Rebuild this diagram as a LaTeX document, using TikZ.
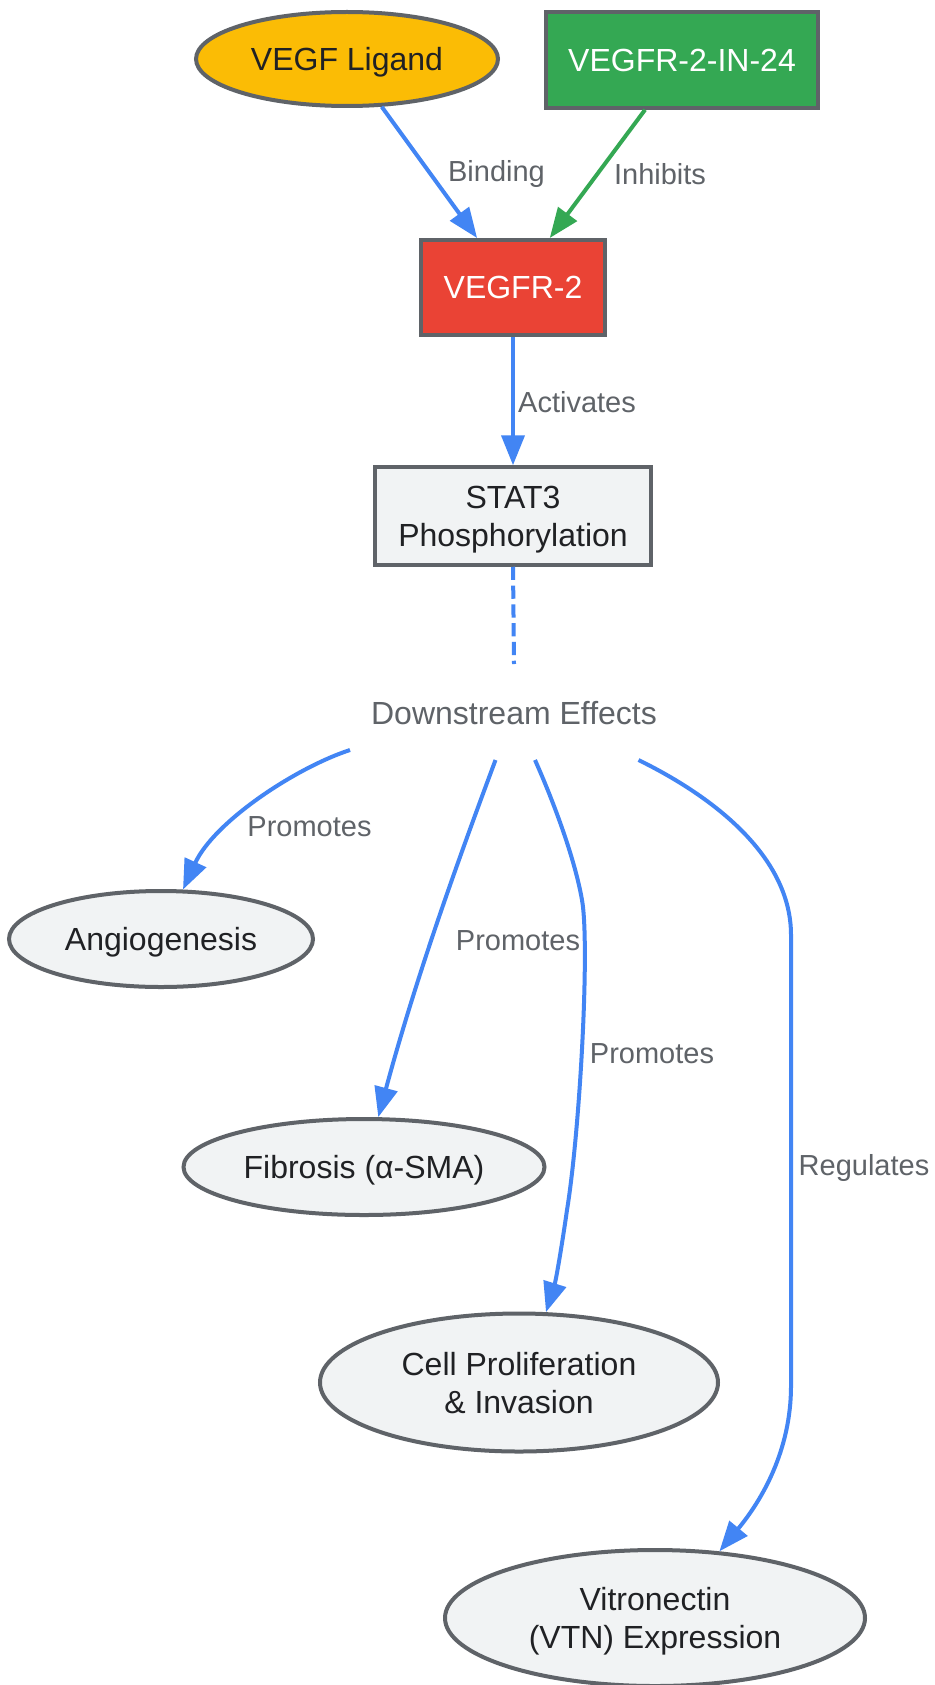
\documentclass[tikz,border=0pt]{standalone}
\usepackage{fontspec}
\setmainfont{Liberation Sans}
\usetikzlibrary{shapes.geometric,arrows.meta}
\definecolor{gblue}{HTML}{4285F4}
\definecolor{ggreen}{HTML}{34A853}
\definecolor{gred}{HTML}{EA4335}
\definecolor{gyellow}{HTML}{FBBC05}
\definecolor{gborder}{HTML}{5F6368}
\definecolor{glight}{HTML}{F1F3F4}
\definecolor{gtext}{HTML}{202124}
\definecolor{glabel}{HTML}{5F6368}
\begin{document}
\begin{tikzpicture}[x=0.5pt,y=-0.5pt,
  box/.style={draw=gborder, line width=2pt, inner sep=0pt, align=center, text depth=0pt,
              font=\fontsize{16}{19}\selectfont, text=gtext, fill=glight},
  oval/.style={box, ellipse},
  conn/.style={draw=gblue, line width=2pt, -{Triangle[length=15pt,width=11.5pt]}},
  lbl/.style={text=glabel, font=\fontsize{14.5}{17}\selectfont, inner sep=0pt}
]
\useasboundingbox[fill=white] (0,0) rectangle (934,1685);

% nodes
\node[oval, fill=gyellow, minimum width=151pt, minimum height=47pt] (vegf) at (347,59) {VEGF Ligand};
\node[box, fill=ggreen, text=white, minimum width=136pt, minimum height=47.75pt] (inh) at (682,60) {VEGFR-2-IN-24};
\node[box, fill=gred, text=white, minimum width=92pt, minimum height=47.5pt] (vr) at (513,287.5) {VEGFR-2};
\node[box, minimum width=138pt, minimum height=48.75pt] (stat) at (513,516) {STAT3\\Phosphorylation};
\node[text=glabel, font=\fontsize{16}{19}\selectfont, inner sep=0pt, text depth=0pt] (ds) at (514,712.5) {Downstream Effects};
\node[oval, minimum width=152pt, minimum height=48pt] (ang) at (161,939) {Angiogenesis};
\node[oval, minimum width=180.5pt, minimum height=48pt] (fib) at (364,1167) {Fibrosis (α-SMA)};
\node[oval, minimum width=199pt, minimum height=69pt] (cell) at (519,1382.5) {Cell Proliferation\\\& Invasion};
\node[oval, minimum width=210pt, minimum height=68pt] (vtn) at (655,1618) {Vitronectin\\(VTN) Expression};

% connector end points
\coordinate (dsend) at (514,664);
\coordinate (ds1) at (350,750);
\coordinate (ds2) at (495.5,760);
\coordinate (ds3) at (535,760);
\coordinate (ds4) at (638.5,760);

% connectors
\draw[conn] (vegf) -- (vr);
\draw[conn, draw=ggreen] (inh) -- (vr);
\draw[conn] (vr) -- (stat);
\draw[draw=gblue, line width=2pt, dash pattern=on 6.6pt off 2.8pt] (stat.south) -- (dsend);
\draw[conn] (ds1) .. controls (295,768) and (214,822) .. (ang.66);
\draw[conn] (ds2) .. controls (462,850) and (418,970) .. (fib.74);
\draw[conn] (ds3) .. controls (555,805) and (575,860) .. (582,900)
  .. controls (590,945) and (580,1130) .. (567,1210)
  .. controls (562,1245) and (556,1280) .. (cell.69);
\draw[conn] (ds4) .. controls (720,800) and (791,860) .. (791,935)
  -- (791,1386) .. controls (791,1450) and (762,1500) .. (vtn.46);

% labels
\node[lbl] (lb1) at (496.5,174) {Binding};
\node[lbl] (lb2) at (660,174) {Inhibits};
\node[lbl] (lb3) at (577,402) {Activates};
\node[lbl] (lb4) at (309.5,826.5) {Promotes};
\node[lbl] (lb5) at (518,940.5) {Promotes};
\node[lbl] (lb6) at (652,1054) {Promotes};
\node[lbl] (lb7) at (864,1168) {Regulates};
\end{tikzpicture}
\end{document}
